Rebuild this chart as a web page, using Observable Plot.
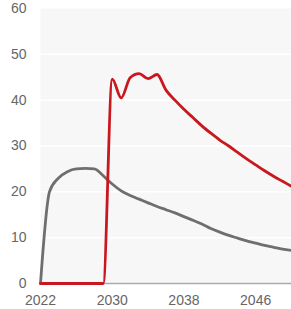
<!DOCTYPE html>
<html>
<head>
<meta charset="utf-8">
<script src="https://cdn.jsdelivr.net/npm/d3@7"></script>
<script src="https://cdn.jsdelivr.net/npm/@observablehq/plot@0.6"></script>
<style>
  html, body { margin: 0; padding: 0; background: #fff; }
</style>
</head>
<body>
<div id="chart"></div>
<script>
const years = d3.range(2022, 2051);
const grayValues = [0, 20, 23, 24.4, 25, 25.1, 25, 23.5, 21.7, 20.2, 19.2, 18.4, 17.6, 16.8, 16.1, 15.4, 14.6, 13.8, 13.0, 12.0, 11.2, 10.5, 9.9, 9.3, 8.8, 8.3, 7.9, 7.5, 7.2];
const redValues = [0, 0, 0, 0, 0, 0, 0, 0, 44.6, 40.5, 44.9, 45.8, 44.7, 45.6, 42.2, 40.0, 38.0, 36.2, 34.4, 32.8, 31.3, 30.0, 28.6, 27.2, 25.9, 24.6, 23.4, 22.3, 21.2];
const xTicks = [2022, 2030, 2038, 2046];
const yTicks = [0, 10, 20, 30, 40, 50, 60];
const gridValues = [10, 20, 30, 40, 50];

const gray = years.map((y, i) => ({year: y, value: grayValues[i]}));
const red = years.map((y, i) => ({year: y, value: redValues[i]}));

const chart = Plot.plot({
  width: 291,
  height: 309,
  marginLeft: 40,
  marginRight: 0,
  marginTop: 8,
  marginBottom: 26,
  style: {fontFamily: "'Liberation Sans', Arial, sans-serif", fontSize: "14px", color: "#666", background: "#fff"},
  x: {domain: [2022, 2050], ticks: xTicks, tickFormat: d => String(d), tickSize: 0, tickPadding: 12, label: null},
  y: {domain: [0, 60], ticks: yTicks, tickSize: 0, tickPadding: 14, label: null},
  marks: [
    Plot.frame({fill: "#f7f7f7", stroke: null}),
    Plot.ruleY(gridValues, {stroke: "#fff", strokeWidth: 1.5}),
    Plot.ruleY([0], {stroke: "#aaa", strokeWidth: 1.5}),
    Plot.line(gray, {x: "year", y: "value", stroke: "#6e6e6e", strokeWidth: 2.8, curve: "monotone-x"}),
    Plot.line(red, {x: "year", y: "value", stroke: "#c8171e", strokeWidth: 2.8, curve: "monotone-x"})
  ]
});
document.getElementById("chart").appendChild(chart);
</script>
</body>
</html>
